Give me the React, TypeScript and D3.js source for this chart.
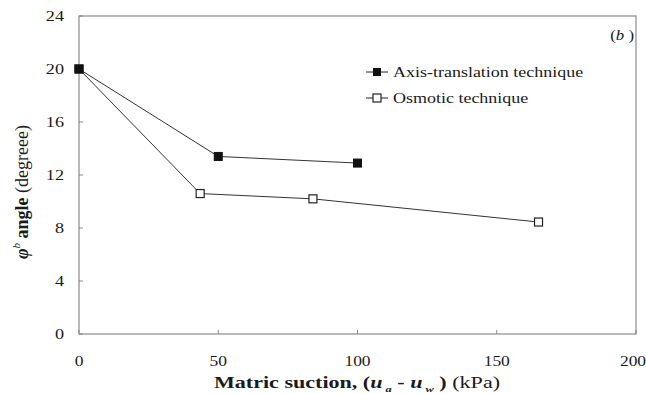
import React from "react";
import * as d3 from "d3";

const axisX = [0, 50, 100, 150, 200];
const axisY = [0, 4, 8, 12, 16, 20, 24];
const axisTransSuction = [0, 50, 100];
const axisTransAngle = [20, 13.4, 12.9];
const osmoticSuction = [0, 43.5, 84, 165];
const osmoticAngle = [20, 10.6, 10.2, 8.45];
const legendLabels = ["Axis-translation technique", "Osmotic technique"];

const font = "\"Liberation Serif\", \"DejaVu Serif\", serif";

// horizontally stretched text (the reference image is stretched sideways)
function SText(props: { x: number; y: number; sx: number; anchor?: string; size: number; children: any }) {
  const { x, y, sx, anchor = "start", size, children } = props;
  return (
    <g transform={`translate(${x},${y}) scale(${sx},1)`}>
      <text x={0} y={0} textAnchor={anchor} fontSize={size} fill="#1a1a1a" style={{ fontFamily: font }}>
        {children}
      </text>
    </g>
  );
}

export default function App() {
  const W = 646, H = 394;
  const L = 79, R = 636, T = 16, B = 334;
  const x = d3.scaleLinear().domain([0, 200]).range([L, R]);
  const y = d3.scaleLinear().domain([0, 24]).range([B, T]);
  const line = d3.line<[number, number]>().x(d => x(d[0])).y(d => y(d[1]));
  const s1: [number, number][] = axisTransSuction.map((v, i) => [v, axisTransAngle[i]]);
  const s2: [number, number][] = osmoticSuction.map((v, i) => [v, osmoticAngle[i]]);
  const ms = 8;
  return (
    <svg width={W} height={H} style={{ position: "absolute", left: 0, top: 0, background: "#fff", fontFamily: font }}>
      <rect x={L} y={T} width={R - L} height={B - T} fill="none" stroke="#8a8a8a" strokeWidth={1.2} />
      {axisX.map(t => (
        <g key={"x" + t}>
          <line x1={x(t)} x2={x(t)} y1={B} y2={B - 4} stroke="#888" />
          <SText x={t === 200 ? x(t) - 3 : x(t)} y={366} sx={1.25} anchor="middle" size={14}>{t}</SText>
        </g>
      ))}
      {axisY.map(t => (
        <g key={"y" + t}>
          <line x1={L} x2={L + 4} y1={y(t)} y2={y(t)} stroke="#888" />
          <SText x={64} y={y(t) + 5} sx={1.3} anchor="end" size={14}>{t}</SText>
        </g>
      ))}
      <path d={line(s2) || ""} fill="none" stroke="#333" strokeWidth={1} />
      <path d={line(s1) || ""} fill="none" stroke="#333" strokeWidth={1} />
      {s2.map((d, i) => (
        <rect key={"o" + i} x={x(d[0]) - ms / 2} y={y(d[1]) - ms / 2} width={ms} height={ms} fill="#fff" stroke="#222" strokeWidth={1.2} />
      ))}
      {s1.map((d, i) => (
        <rect key={"a" + i} x={x(d[0]) - ms / 2} y={y(d[1]) - ms / 2} width={ms} height={ms} fill="#111" stroke="#111" />
      ))}
      <g>
        <line x1={366} x2={388} y1={72} y2={72} stroke="#222" />
        <rect x={373} y={68} width={8} height={8} fill="#111" />
        <SText x={393} y={77} sx={1.2} size={15}>{legendLabels[0]}</SText>
        <line x1={366} x2={388} y1={98} y2={98} stroke="#222" />
        <rect x={373} y={94} width={8} height={8} fill="#fff" stroke="#222" strokeWidth={1.2} />
        <SText x={393} y={103} sx={1.2} size={15}>{legendLabels[1]}</SText>
      </g>
      <SText x={634} y={40} sx={1.2} anchor="end" size={14}>
        (<tspan fontStyle="italic">b</tspan> )
      </SText>
      <SText x={357} y={388} sx={1.38} anchor="middle" size={16}>
        <tspan fontWeight="bold">Matric suction, (</tspan>
        <tspan fontWeight="bold" fontStyle="italic">u</tspan>
        <tspan fontSize={9} dy={4} fontStyle="italic" fontWeight="bold"> a</tspan>
        <tspan dy={-4} fontWeight="bold"> - </tspan>
        <tspan fontWeight="bold" fontStyle="italic">u</tspan>
        <tspan fontSize={9} dy={4} fontStyle="italic" fontWeight="bold"> w</tspan>
        <tspan dy={-4} fontWeight="bold"> )</tspan>
        <tspan> (kPa)</tspan>
      </SText>
      <g transform={`translate(28, ${192}) rotate(-90)`}>
        <text x={0} y={0} textAnchor="middle" fontSize={18} fill="#1a1a1a" style={{ fontFamily: font }}>
          <tspan fontWeight="bold" fontStyle="italic">φ</tspan>
          <tspan fontSize={11} dy={-8} fontStyle="italic">b</tspan>
          <tspan dy={8} fontWeight="bold"> angle</tspan>
          <tspan> (degreee)</tspan>
        </text>
      </g>
    </svg>
  );
}
